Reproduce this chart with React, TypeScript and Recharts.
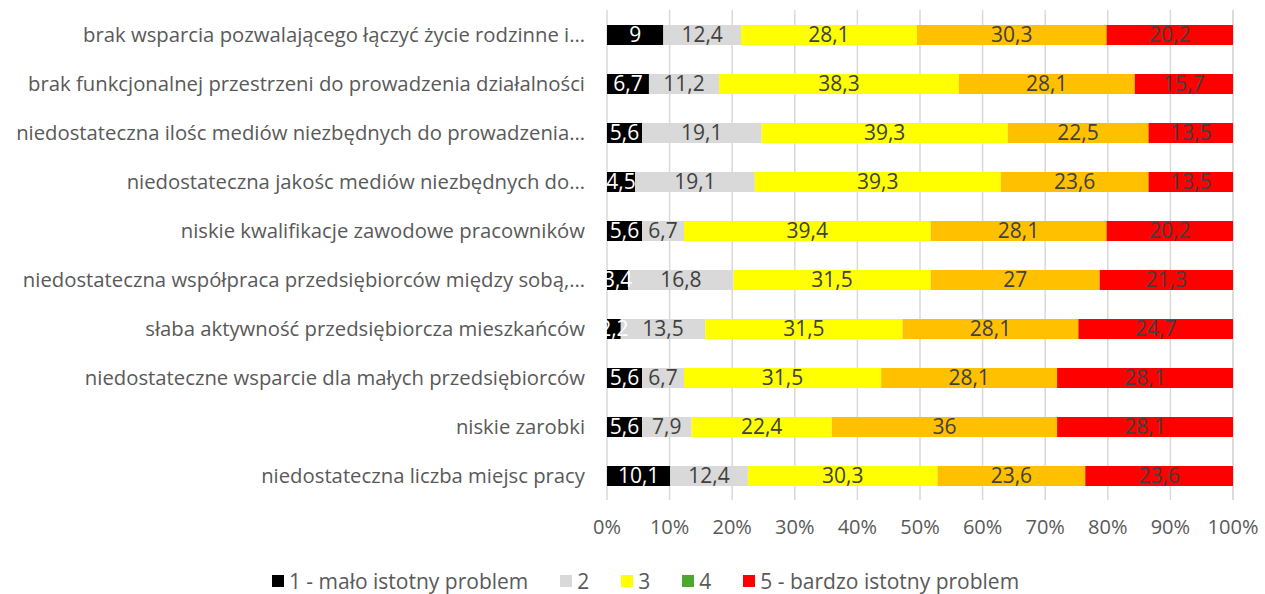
import { BarChart, Bar, XAxis, YAxis, CartesianGrid, LabelList } from "recharts";

const categories = [
  "brak wsparcia pozwalającego łączyć życie rodzinne i…",
  "brak funkcjonalnej przestrzeni do prowadzenia działalności",
  "niedostateczna ilośc mediów niezbędnych do prowadzenia…",
  "niedostateczna jakośc mediów niezbędnych do…",
  "niskie kwalifikacje zawodowe pracowników",
  "niedostateczna współpraca przedsiębiorców między sobą,…",
  "słaba aktywność przedsiębiorcza mieszkańców",
  "niedostateczne wsparcie dla małych przedsiębiorców",
  "niskie zarobki",
  "niedostateczna liczba miejsc pracy",
];

const s1 = [9, 6.7, 5.6, 4.5, 5.6, 3.4, 2.2, 5.6, 5.6, 10.1];
const s2 = [12.4, 11.2, 19.1, 19.1, 6.7, 16.8, 13.5, 6.7, 7.9, 12.4];
const s3 = [28.1, 38.3, 39.3, 39.3, 39.4, 31.5, 31.5, 31.5, 22.4, 30.3];
const s4 = [30.3, 28.1, 22.5, 23.6, 28.1, 27, 28.1, 28.1, 36, 23.6];
const s5 = [20.2, 15.7, 13.5, 13.5, 20.2, 21.3, 24.7, 28.1, 28.1, 23.6];

const xTicks = [0, 10, 20, 30, 40, 50, 60, 70, 80, 90, 100];

const seriesNames = ["1 - mało istotny problem", "2", "3", "4", "5 - bardzo istotny problem"];
const barColors = ["#000000", "#D9D9D9", "#FFFF00", "#FFC000", "#FF0000"];
const legendColors = ["#000000", "#D9D9D9", "#FFFF00", "#4EA72E", "#FF0000"];
const labelColors = ["#FFFFFF", "#404040", "#404040", "#404040", "#404040"];

const data = categories.map((name, i) => ({
  name,
  s1: s1[i],
  s2: s2[i],
  s3: s3[i],
  s4: s4[i],
  s5: s5[i],
}));

const keys = ["s1", "s2", "s3", "s4", "s5"];
const FONT = "'Open Sans', 'Liberation Sans', Arial, sans-serif";
const fmt = (v: any) => String(v).replace(".", ",");

export default function App() {
  return (
    <div style={{ position: "absolute", left: 0, top: 0, width: 1265, height: 594, background: "#fff", fontFamily: FONT }}>
      <BarChart
        width={1265}
        height={594}
        data={data}
        layout="vertical"
        margin={{ top: 10, right: 32, left: 0, bottom: 54 }}
      >
        <CartesianGrid horizontal={false} stroke="#D9D9D9" strokeWidth={1.5} />
        <XAxis
          type="number"
          domain={[0, 100]}
          ticks={xTicks}
          tickFormatter={(v) => `${v}%`}
          axisLine={false}
          tickLine={false}
          tickSize={0}
          tickMargin={20}
          height={40}
          tick={{ fontSize: 20, fill: "#595959", fontFamily: FONT }}
        />
        <YAxis
          type="category"
          dataKey="name"
          width={607}
          axisLine={false}
          tickLine={false}
          tickSize={0}
          tickMargin={22}
          interval={0}
          tick={{ fontSize: 20.3, fill: "#595959", fontFamily: FONT }}
        />
        {keys.map((k, i) => (
          <Bar key={k} dataKey={k} stackId="a" fill={barColors[i]} barSize={20} isAnimationActive={false}>
            <LabelList
              dataKey={k}
              position="center"
              formatter={fmt}
              style={{ fontSize: 21, fill: labelColors[i], fontFamily: FONT }}
            />
          </Bar>
        ))}
      </BarChart>
      <div
        style={{
          position: "absolute",
          top: 569,
          left: 13,
          width: 1265,
          display: "flex",
          justifyContent: "center",
          gap: 32,
          fontSize: 21,
          color: "#595959",
          lineHeight: "24px",
        }}
      >
        {seriesNames.map((n, i) => (
          <div key={n} style={{ display: "flex", alignItems: "center" }}>
            <span style={{ display: "inline-block", width: 12, height: 12, background: legendColors[i], marginRight: 5 }} />
            <span>{n}</span>
          </div>
        ))}
      </div>
    </div>
  );
}
